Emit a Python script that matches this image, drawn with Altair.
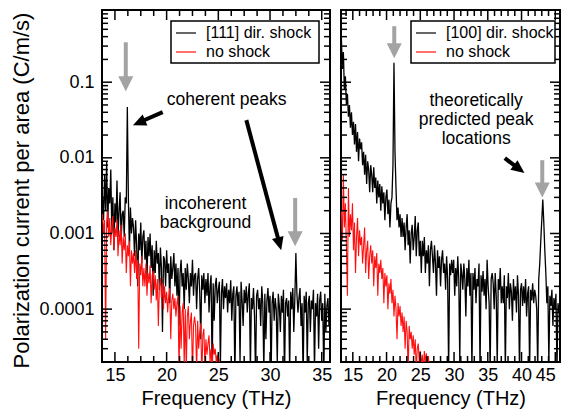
import altair as alt
import pandas as pd

FONT = "Liberation Sans"

# ---------------- data ----------------
# frequency grids (THz): start and step of each sampled spectrum
L_F0, L_DF = 13.8, 0.1
R_F0, R_DF = 13.3, 0.15

left_shock = [
    3e-3, 1.5e-3, 6e-3, 2e-3, 9e-3, 1.2e-3, 4e-3, 2.5e-3, 7e-3, 1e-3,
    3e-3, 6e-4, 2.5e-3, 1.4e-3, 5e-3, 9e-4, 2e-3, 3.5e-3, 8e-4, 1.8e-3,
    2e-3, 9e-4, 3e-3, 2.5e-3, 4.7e-2, 3e-3, 6e-4, 2.2e-3, 1e-3, 1.6e-3,
    1.2e-3, 5e-4, 1.5e-3, 7e-4, 2e-4, 1e-3, 6e-4, 1.4e-3, 4e-4, 9e-4,
    1.1e-3, 4.5e-4, 8e-4, 2.5e-4, 9e-4, 5e-4, 1e-3, 3.5e-4, 7e-4, 1.5e-4,
    6e-4, 3e-4, 8e-4, 4e-4, 5.5e-4, 1.8e-4, 6.5e-4, 3.5e-4, 5e-5, 5e-4,
    4.5e-4, 2e-4, 6e-4, 3e-4, 4e-4, 1.2e-4, 5e-4, 2.5e-4, 3.5e-4, 5.5e-4,
    2e-4, 4e-4, 1.5e-4, 3.5e-4, 6e-5, 3e-4, 4.5e-4, 2e-4, 3e-4, 1e-4,
    3.5e-4, 1.8e-4, 4e-4, 2.5e-4, 1.2e-4, 3e-4, 2e-4, 4.5e-4, 1.5e-4, 2.8e-4,
    3e-4, 1e-4, 2.5e-4, 3.5e-4, 1.7e-4, 4e-5, 2.8e-4, 1.8e-4, 3e-4, 1.2e-4,
    2.5e-4, 1.5e-4, 3e-4, 9e-5, 2e-4, 2.8e-4, 1.5e-5, 2.2e-4, 7e-5, 2e-4,
    2.6e-4, 1.2e-4, 1.8e-4, 2.3e-4, 1.8e-5, 1.6e-4, 2.5e-4, 1e-4, 2e-4, 1.4e-4,
    2.2e-4, 9e-5, 1.8e-4, 1.2e-4, 2.4e-4, 7e-5, 1.6e-4, 2e-4, 1.2e-5, 1.5e-4,
    2e-4, 1.1e-4, 1.7e-4, 2e-5, 2.3e-4, 1.3e-4, 6e-5, 1.8e-4, 1.2e-4, 2e-4,
    9e-5, 1.6e-4, 2.2e-4, 1.5e-5, 1.4e-4, 1e-4, 1.9e-4, 8e-5, 1.2e-5, 1.5e-4,
    1.8e-4, 1e-4, 1.4e-4, 6e-5, 2e-4, 1.2e-4, 1.5e-5, 1.6e-4, 4e-5, 1.3e-4,
    1.9e-4, 9e-5, 1.5e-4, 1.2e-5, 1.2e-4, 1.7e-4, 7e-5, 1.4e-4, 1e-4, 2e-5,
    1.6e-4, 1.1e-4, 5e-5, 1.5e-4, 9e-5, 1.8e-4, 1.2e-5, 1.2e-4, 1.4e-4, 8e-5,
    1.3e-4, 1.5e-5, 1.7e-4, 1e-4, 1.9e-4, 5e-5, 1.4e-4, 5.5e-4, 1.6e-4, 9e-5,
    1.4e-4, 1.9e-4, 6e-5, 1.2e-4, 1.2e-5, 1.5e-4, 9e-5, 1.7e-4, 2e-5, 1.2e-4,
    1.5e-4, 5e-5, 1.3e-4, 1e-4, 1.8e-4, 1.5e-5, 1.2e-4, 8e-5, 1.6e-4, 3e-5,
    1.3e-4, 1.7e-4, 7e-5, 1.2e-4, 1.2e-5, 1.6e-4, 5e-5, 1.1e-4, 1.4e-4, 6e-5, 1e-4,
]

left_noshock = [
    1.8e-3, 1e-3, 1.5e-3, 4e-5, 1.4e-3, 2e-3, 9e-4, 1.6e-3, 7e-4, 1.3e-3,
    1.7e-3, 6e-4, 1.2e-3, 9e-4, 1.5e-3, 5e-4, 1.1e-3, 7e-4, 1.3e-3, 4e-4,
    9e-4, 6e-4, 1e-3, 3e-4, 7e-4, 5e-4, 8e-4, 2e-4, 6e-4, 4e-4,
    5.5e-4, 3e-4, 6e-4, 2.5e-4, 4.5e-4, 3e-5, 4e-4, 2.8e-4, 5e-4, 2e-4,
    3.5e-4, 2e-4, 4e-4, 1.5e-4, 3e-4, 2.2e-4, 3.8e-4, 1.2e-4, 2.8e-4, 3.2e-4,
    1.8e-4, 2.8e-4, 1.3e-4, 2.5e-4, 6e-5, 2e-4, 2.6e-4, 1.4e-4, 2.2e-4, 1e-4,
    2e-4, 1.2e-4, 1.7e-4, 9e-5, 1.5e-4, 1.9e-4, 4e-5, 1.3e-4, 1.6e-4, 1e-4,
    1.4e-4, 8e-5, 1.2e-4, 1.5e-4, 1.5e-5, 1.1e-4, 3e-5, 9e-5, 1.2e-4, 1.8e-5,
    1e-4, 1.5e-5, 8e-5, 1.1e-4, 4e-5, 7e-5, 9e-5, 1.2e-5, 6e-5, 8e-5,
    6e-5, 1.5e-5, 7e-5, 3e-5, 5e-5, 6.5e-5, 1.2e-5, 4.5e-5, 5.5e-5, 1.8e-5,
    4e-5, 2.5e-5, 3.5e-5, 4.5e-5, 2e-5, 3e-5, 1.5e-5, 3.5e-5, 2.5e-5, 3e-5,
    2e-5, 2.5e-5, 1.5e-5, 2.2e-5, 1.2e-5, 1e-5,
]

right_shock = [
    0.4, 0.15, 0.25, 0.08, 0.12, 0.05, 0.07, 0.035, 0.05, 0.025,
    0.04, 0.02, 0.03, 0.015, 0.028, 0.012, 0.022, 0.009, 0.018, 0.013,
    0.016, 0.008, 0.012, 0.006, 0.011, 0.0045, 0.009, 0.007, 0.0035, 0.008,
    0.006, 0.0035, 0.0075, 0.004, 0.0055, 0.0025, 0.005, 0.003, 0.0045, 0.002,
    0.0042, 0.0025, 0.0035, 0.0015, 0.003, 0.0038, 0.0018, 0.0028, 0.0012, 0.0025,
    0.003, 0.008, 0.18, 0.012, 0.004, 0.0015, 0.0022, 0.0012, 0.0018, 0.0009,
    0.0016, 0.0009, 0.0014, 0.0006, 0.0012, 0.0018, 0.0007, 0.0011, 0.0004, 0.001,
    0.0013, 0.0006, 0.0009, 0.0017, 0.0005, 0.0011, 0.0014, 0.0005, 0.0008, 0.0003,
    0.0008, 0.0005, 0.0009, 0.0003, 0.0006, 0.0004, 0.0007, 0.0002, 0.0006, 0.0008,
    0.0005, 0.0003, 0.0007, 0.0004, 0.00015, 0.0006, 0.00035, 0.0005, 0.0002, 0.00045,
    0.0006, 0.0003, 0.0004, 0.00018, 0.0005, 0.00025, 0.000015, 0.0004, 0.00028, 0.00045,
    0.0003, 0.00045, 0.00015, 0.00035, 0.0002, 0.0005, 0.00025, 0.00002, 0.0004, 0.0003,
    0.00018, 0.0004, 0.00025, 0.00008, 0.00035, 0.0002, 0.00045, 0.00015, 0.0003, 0.000015,
    0.0003, 0.00018, 0.00035, 0.00012, 0.00025, 0.0002, 0.0004, 0.000015, 0.00028, 0.00017,
    0.00032, 0.00015, 0.00025, 0.0001, 0.00045, 0.0002, 0.00012, 0.000015, 0.00025, 0.0003,
    0.00022, 0.0001, 0.0003, 0.00015, 0.000018, 0.00025, 0.00018, 0.00035, 0.00012, 0.0002,
    0.00012, 0.00028, 0.000015, 0.0002, 0.00014, 0.0003, 0.0001, 0.00022, 0.00017, 0.00007,
    0.00025, 0.00013, 0.0002, 0.00009, 0.00028, 0.00015, 0.000015, 0.00018, 0.00022, 0.00011,
    0.0002, 0.00012, 0.00025, 0.00008, 0.00016, 0.0002, 0.000015, 0.00018, 0.00013, 0.00022,
    0.00012, 0.00018, 0.00015, 0.0001, 0.000015, 0.00025, 0.0004, 0.0008, 0.0015, 0.0028,
    0.0014, 0.0006, 0.0003, 0.00012, 0.0002, 0.00002, 0.00015, 0.00011, 0.00018, 0.00006,
    0.00014, 0.0001, 0.00016, 0.000015, 0.00012, 0.00009, 0.00013,
]

right_noshock = [
    0.002, 0.0008, 0.006, 0.0012, 0.0025, 0.0007, 0.00015, 0.004, 0.0009, 0.0018,
    0.0011, 0.0025, 0.0006, 0.0014, 0.0003, 0.0009, 0.0016, 0.0005, 0.0011, 0.0007,
    0.0009, 0.0004, 0.0007, 0.0012, 0.0003, 0.0006, 0.0008, 0.00025, 0.0005, 0.0007,
    0.0004, 0.0006, 0.0002, 0.0005, 0.00035, 0.00055, 0.00015, 0.0004, 0.0003, 0.00045,
    0.00025, 0.00035, 0.00012, 0.0003, 0.0002, 0.00028, 0.0001, 0.00022, 0.00016, 0.00025,
    0.00012, 0.00018, 0.00008, 0.00015, 0.0001, 0.00004, 0.00012, 0.00008, 0.00011, 0.00006,
    0.00009, 0.00005, 0.00008, 0.00003, 0.00007, 0.00005, 0.000015, 0.00006, 0.00004, 0.00005,
    0.00003, 0.000045, 0.000025, 0.00004, 0.000015, 0.00003, 0.000035, 0.00002, 0.000028, 0.000018,
    0.000025, 0.000015, 0.000028, 0.00002, 0.000026, 0.000017, 0.000024, 0.000013, 0.00001, 0.000008,
]

# axis ticks
y_major = [1e-4, 1e-3, 1e-2, 1e-1]
y_minor = [m * 10.0 ** e for e in range(-5, 0) for m in range(2, 10)
           if 2.01e-5 < m * 10.0 ** e < 0.89]
left_x_major = [15, 20, 25, 30, 35]
left_x_minor = [16.25, 17.5, 18.75, 21.25, 22.5, 23.75, 26.25, 27.5, 28.75,
                31.25, 32.5, 33.75]
right_x_major = [15, 20, 25, 30, 35, 40, 45]
right_x_minor = [14, 16, 17, 18, 19, 21, 22, 23, 24, 26, 27, 28, 29, 31, 32, 33,
                 34, 36, 37, 38, 39, 41, 42, 43, 44]

# annotations (data coordinates: THz, C/m/s)
left_gray = {"f": [16.05, 32.43], "top": [0.337, 2.94e-3],
             "base": [0.106, 9.2e-4], "tip": [0.076, 6.8e-4]}
right_gray = {"f": [21.14, 43.07], "top": [0.55, 9.3e-3],
              "base": [0.29, 4.2e-3], "tip": [0.207, 3.0e-3]}
left_black = {"f1": [19.62, 27.71], "v1": [0.0402, 0.0315],
              "f2": [17.26, 30.93], "v2": [0.0291, 7.2e-4],
              "ft": [16.74, 31.08], "vt": [0.027, 6.0e-4], "ang": [246.5, 164.9]}
right_black = {"f1": [37.52], "v1": [9.9e-3], "f2": [39.74], "v2": [7.0e-3],
               "ft": [40.44], "vt": [6.3e-3], "ang": [126.9]}
left_texts_left = {"f": [20.01], "v": [0.0578], "t": ["coherent peaks"]}
left_texts_center = {"f": [23.76, 23.76], "v": [2.44e-3, 1.37e-3],
                     "t": ["incoherent", "background"]}
right_texts_center = {"f": [33.28, 33.28, 33.28], "v": [0.0570, 0.0315, 0.0175],
                      "t": ["theoretically", "predicted peak", "locations"]}

H = 352
Y_DOMAIN = [2e-5, 0.9]
GRAY = "#a3a3a3"
RED = "#ff1010"
GRAY_HEAD = "M0,0 L-0.5,-1 L0.5,-1 Z"
BLACK_HEAD = "M0,0 L0.45,1 L-0.45,1 Z"


def series_df(f0, df, vals):
    return pd.DataFrame({"f": [round(f0 + df * i, 4) for i in range(len(vals))],
                         "v": vals})


def panel(W, xdom, xmaj, xmin, shock, noshock, f0, df, gray, black,
          t_left, t_center, legend, legend_label, show_y, flush=False):
    xs = alt.Scale(domain=xdom, nice=False, zero=False)
    ys = alt.Scale(type="log", domain=Y_DOMAIN, nice=False)
    xkw = {"labelFlush": 6} if flush else {"labelFlush": False}
    xaxis = alt.Axis(values=xmaj, format="d", ticks=False, tickSize=0, domain=False,
                     grid=False, labelFontSize=18, labelPadding=4,
                     title="Frequency (THz)", titleFontSize=20,
                     titleX=W / 2, titleY=36, titleBaseline="middle", **xkw)
    if show_y:
        yaxis = alt.Axis(values=y_major, format="~f", ticks=False, tickSize=0,
                         domain=False, grid=False, labelFontSize=18, labelPadding=8,
                         title="Polarization current per area (C/m/s)",
                         titleFontSize=22, titleX=-81, titleY=180,
                         titleAngle=270, titleAlign="center",
                         titleBaseline="middle")
    else:
        yaxis = None
    X = alt.X("f:Q", scale=xs, axis=xaxis)
    Y = alt.Y("v:Q", scale=ys, axis=yaxis)

    layers = []
    layers.append(alt.Chart(series_df(f0, df, shock)).mark_line(
        color="black", strokeWidth=1.3, clip=True).encode(x=X, y=Y))
    layers.append(alt.Chart(series_df(f0, df, noshock)).mark_line(
        color=RED, strokeWidth=1.1, clip=True).encode(x=X, y=Y))

    # tick marks (inside the frame, on all four sides)
    for vals, ln in ((y_major, 10), (y_minor, 6)):
        d = pd.DataFrame({"v": vals})
        layers.append(alt.Chart(d).mark_rule(color="black", strokeWidth=1.5).encode(
            y=Y, x=alt.value(0), x2=alt.value(ln)))
        layers.append(alt.Chart(d).mark_rule(color="black", strokeWidth=1.5).encode(
            y=Y, x=alt.value(W - ln), x2=alt.value(W)))
    for vals, ln in ((xmaj, 10), (xmin, 6)):
        d = pd.DataFrame({"f": vals})
        layers.append(alt.Chart(d).mark_rule(color="black", strokeWidth=1.5).encode(
            x=X, y=alt.value(H - ln), y2=alt.value(H)))
        layers.append(alt.Chart(d).mark_rule(color="black", strokeWidth=1.5).encode(
            x=X, y=alt.value(0), y2=alt.value(ln)))

    # gray arrows
    g = pd.DataFrame({"f": gray["f"], "v": gray["top"], "v2": gray["base"]})
    layers.append(alt.Chart(g).mark_rule(color=GRAY, strokeWidth=4).encode(
        x=X, y=Y, y2="v2:Q"))
    gh = pd.DataFrame({"f": gray["f"], "v": gray["tip"]})
    layers.append(alt.Chart(gh).mark_point(shape=GRAY_HEAD, filled=True, color=GRAY,
                                           opacity=1, size=900, strokeWidth=0).encode(
        x=X, y=Y))

    # black arrows
    b = pd.DataFrame({"f": black["f1"], "v": black["v1"],
                      "f2": black["f2"], "v2": black["v2"]})
    layers.append(alt.Chart(b).mark_rule(color="black", strokeWidth=4).encode(
        x=X, y=Y, x2="f2:Q", y2="v2:Q"))
    bh = pd.DataFrame({"f": black["ft"], "v": black["vt"], "ang": black["ang"]})
    layers.append(alt.Chart(bh).mark_point(shape=BLACK_HEAD, filled=True,
                                           color="black", opacity=1, size=700,
                                           strokeWidth=0).encode(
        x=X, y=Y, angle=alt.Angle("ang:Q", scale=None)))

    # text annotations
    if t_left:
        layers.append(alt.Chart(pd.DataFrame(t_left)).mark_text(
            font=FONT, fontSize=17.5, align="left", baseline="middle",
            color="black").encode(x=X, y=Y, text="t:N"))
    if t_center:
        layers.append(alt.Chart(pd.DataFrame(t_center)).mark_text(
            font=FONT, fontSize=17.5, align="center", baseline="middle",
            color="black").encode(x=X, y=Y, text="t:N"))

    # legend box
    x0, x1, y0, y1, lx0, lx1, tx, ya, yb = legend
    one = pd.DataFrame({"k": [0]})
    layers.append(alt.Chart(one).mark_rect(fill="white", stroke="black",
                                           strokeWidth=1.5).encode(
        x=alt.value(x0), x2=alt.value(x1), y=alt.value(y0), y2=alt.value(y1)))
    layers.append(alt.Chart(one).mark_rule(color="black", strokeWidth=1.2).encode(
        x=alt.value(lx0), x2=alt.value(lx1), y=alt.value(ya)))
    layers.append(alt.Chart(one).mark_rule(color=RED, strokeWidth=1.2).encode(
        x=alt.value(lx0), x2=alt.value(lx1), y=alt.value(yb)))
    layers.append(alt.Chart(one).mark_text(font=FONT, fontSize=16, align="left",
                                           baseline="middle", color="black").encode(
        x=alt.value(tx), y=alt.value(ya), text=alt.value(legend_label)))
    layers.append(alt.Chart(one).mark_text(font=FONT, fontSize=16, align="left",
                                           baseline="middle", color="black").encode(
        x=alt.value(tx), y=alt.value(yb), text=alt.value("no shock")))

    return alt.layer(*layers).properties(width=W, height=H)


left = panel(228, [13.75, 35.8], left_x_major, left_x_minor, left_shock,
             left_noshock, L_F0, L_DF, left_gray, left_black, left_texts_left,
             left_texts_center, (69, 217, 11, 53, 74, 94, 104, 23, 42),
             "[111] dir. shock", True)
right = panel(219, [13.25, 45.7], right_x_major, right_x_minor, right_shock,
              right_noshock, R_F0, R_DF, right_gray, right_black, None,
              right_texts_center, (70, 214, 11, 53, 75, 95, 105, 23, 42),
              "[100] dir. shock", False, flush=True)

# fixed layout: the views start 94px / 2px inside a 553 x 401 drawing
chart = alt.hconcat(left, right, spacing=11).properties(
    autosize=alt.AutoSizeParams(type="none"),
    padding={"left": 94, "top": 2, "right": 459, "bottom": 399},
    bounds="flush",
).configure_view(stroke="black", strokeWidth=2).configure_axis(
    labelFont=FONT, titleFont=FONT, labelColor="black", titleColor="black",
    titleFontWeight="normal"
)

chart.save("out.html", embed_options={"renderer": "svg", "actions": False})
